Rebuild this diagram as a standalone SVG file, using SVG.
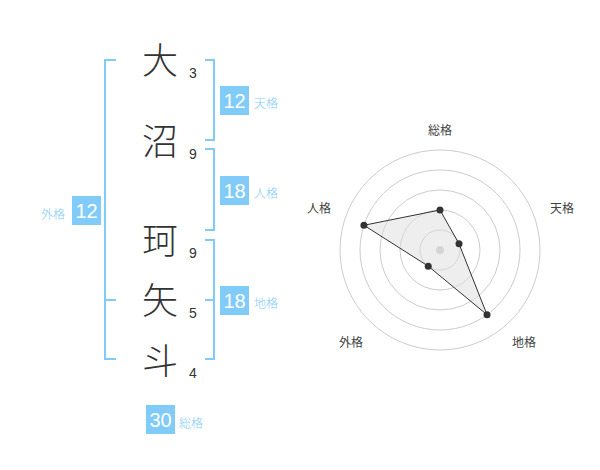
<svg xmlns="http://www.w3.org/2000/svg" width="600" height="470" viewBox="0 0 600 470">
<style>
.kanji{font-family:"Noto Sans CJK JP","Noto Sans CJK SC",sans-serif;font-size:36px;font-weight:300;fill:#333;text-anchor:middle}
.num{font-family:"Liberation Sans",Arial,sans-serif;font-size:14px;fill:#333;text-anchor:middle}
.box{fill:#80cbf8}
.boxnum{font-family:"Liberation Sans",Arial,sans-serif;font-size:20px;fill:#fff;text-anchor:middle}
.lbl{font-family:"Noto Sans CJK JP","Noto Sans CJK SC",sans-serif;font-size:12px;font-weight:300;fill:#80cbf8}
.br{fill:none;stroke:#80cbf8;stroke-width:2}
.ring{fill:none;stroke:#cccccc;stroke-width:1}
.axl{font-family:"Noto Sans CJK JP","Noto Sans CJK SC",sans-serif;font-size:12px;fill:#444;text-anchor:middle}
.pt{fill:#333}
</style>
<rect width="600" height="470" fill="#fff"/>
<g id="connectors">
<path class="br" d="M116,60 H105 V359 H116 M105,300 H116"/>
<path class="br" d="M205,60 H214 V140 H205"/>
<path class="br" d="M205,149 H214 V230 H205"/>
<path class="br" d="M205,240 H214 V359 H205 M205,300 H214"/>
</g>
<g id="char1"><text class="kanji" x="160" y="74">大</text><text class="num" x="193" y="78">3</text></g>
<g id="char2"><text class="kanji" x="160" y="155">沼</text><text class="num" x="193" y="159">9</text></g>
<g id="char3"><text class="kanji" x="160" y="254">珂</text><text class="num" x="193" y="258">9</text></g>
<g id="char4"><text class="kanji" x="160" y="314">矢</text><text class="num" x="193" y="318">5</text></g>
<g id="char5"><text class="kanji" x="160" y="375">斗</text><text class="num" x="193" y="378">4</text></g>
<g id="tenkaku"><rect class="box" x="220" y="86" width="29" height="29"/><text class="boxnum" x="234.5" y="108">12</text><text class="lbl" x="254" y="108">天格</text></g>
<g id="jinkaku"><rect class="box" x="220" y="176" width="29" height="29"/><text class="boxnum" x="234.5" y="198">18</text><text class="lbl" x="254" y="198">人格</text></g>
<g id="gaikaku"><rect class="box" x="72" y="196" width="29" height="29"/><text class="boxnum" x="86.5" y="218">12</text><text class="lbl" x="41" y="219">外格</text></g>
<g id="chikaku"><rect class="box" x="220" y="286" width="29" height="29"/><text class="boxnum" x="234.5" y="308">18</text><text class="lbl" x="254" y="308">地格</text></g>
<g id="soukaku"><rect class="box" x="146" y="405" width="29" height="29"/><text class="boxnum" x="160.5" y="427">30</text><text class="lbl" x="179" y="428">総格</text></g>
<g id="radar">
<circle class="ring" cx="440" cy="250" r="20"/>
<circle class="ring" cx="440" cy="250" r="40"/>
<circle class="ring" cx="440" cy="250" r="60"/>
<circle class="ring" cx="440" cy="250" r="80"/>
<circle class="ring" cx="440" cy="250" r="100"/>
<circle cx="440" cy="250" r="4" fill="#ccc"/>
<polygon points="440,210 459.02,243.82 487.02,314.72 428.24,266.18 363.92,225.28" fill="#dddddd" fill-opacity="0.5" stroke="#333" stroke-width="1"/>
<circle class="pt" cx="440" cy="210" r="3.5"/>
<circle class="pt" cx="459.02" cy="243.82" r="3.5"/>
<circle class="pt" cx="487.02" cy="314.72" r="3.5"/>
<circle class="pt" cx="428.24" cy="266.18" r="3.5"/>
<circle class="pt" cx="363.92" cy="225.28" r="3.5"/>
<text class="axl" x="440" y="135">総格</text>
<text class="axl" x="562" y="213">天格</text>
<text class="axl" x="524" y="347">地格</text>
<text class="axl" x="351" y="347">外格</text>
<text class="axl" x="319" y="213">人格</text>
</g>
</svg>
